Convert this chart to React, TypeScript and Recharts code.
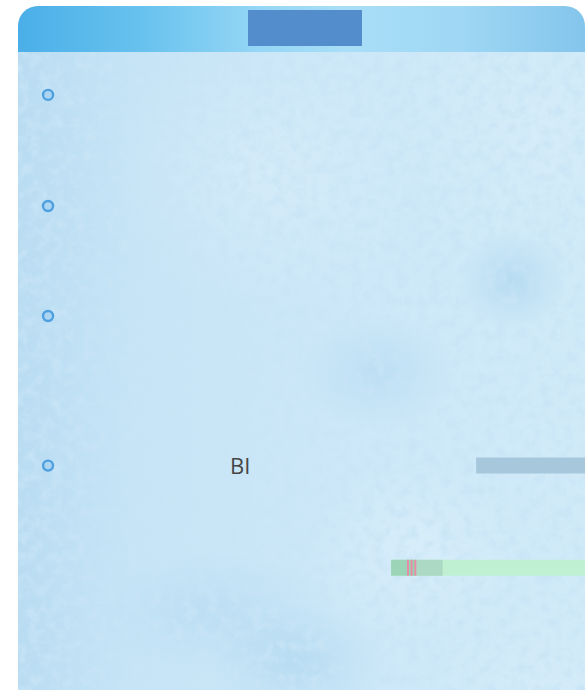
import React from 'react';
import { ComposedChart, Bar, Scatter, XAxis, YAxis, Cell } from 'recharts';

// card geometry
const CARD_W = 567;
const CARD_H = 684;
const HEAD_H = 46;

// hollow markers on the left track (row 0 = top)
const markerRows = [0, 1.01, 2.01, 3.37];
const markerX = 5.3;

// text labels sitting on a row
const labelRows = [3.37];
const labelX = [39.2];
const labelText = ['BI'];

// horizontal spans: row, start, end (percent of track), colour
const spanRows = [3.37, 4.3, 4.3, 4.3, 4.3, 4.3, 4.3, 4.3];
const spanStart = [80.8, 65.8, 65.8, 68.6, 70.3, 68.6, 69.25, 69.9];
const spanEnd = [100, 100, 68.6, 70.3, 74.9, 68.95, 69.6, 70.25];
const spanColors = ['#a7c8dc', '#bff0d1', '#9bd4b7', '#8fdaae', '#acd9c3', '#ea8aa9', '#ea8aa9', '#ea8aa9'];

const markers = markerRows.map((row) => ({ row, x: markerX }));
const labels = labelRows.map((row, i) => ({ row, x: labelX[i], name: labelText[i] }));
const spans = spanRows.map((row, i) => ({ row, span: [spanStart[i], spanEnd[i]] }));

const Ring = (p: any) => (
  <circle cx={p.cx} cy={p.cy} r={5} fill="#acd5f1" stroke="#4e9fe0" strokeWidth={2.4} />
);

const Word = (p: any) => (
  <text
    x={p.cx}
    y={p.cy}
    dy="0.36em"
    textAnchor="middle"
    fontSize={22}
    fontFamily="'Open Sans', sans-serif"
    fill="#454545"
  >
    {p.payload.name}
  </text>
);

const bodyBg = [
  'radial-gradient(ellipse 55px 50px at 495px 228px, rgba(145,198,230,0.4), rgba(145,198,230,0) 100%)',
  'radial-gradient(ellipse 80px 60px at 360px 320px, rgba(150,200,232,0.3), rgba(150,200,232,0) 100%)',
  'radial-gradient(ellipse 90px 60px at 280px 610px, rgba(145,198,230,0.35), rgba(145,198,230,0) 100%)',
  'radial-gradient(ellipse 120px 60px at 200px 560px, rgba(150,200,232,0.25), rgba(150,200,232,0) 100%)',
  'radial-gradient(ellipse 110px 90px at 400px 500px, rgba(225,242,252,0.5), rgba(225,242,252,0) 100%)',
  'radial-gradient(ellipse 160px 140px at 250px 120px, rgba(222,240,251,0.5), rgba(222,240,251,0) 100%)',
  'radial-gradient(ellipse 150px 140px at 520px 80px, rgba(220,240,251,0.45), rgba(220,240,251,0) 100%)',
  'radial-gradient(ellipse 120px 110px at 520px 640px, rgba(218,238,250,0.45), rgba(218,238,250,0) 100%)',
  'linear-gradient(90deg, #b9dcf2 0%, #c6e4f6 20%, #cde8f8 60%, #d0eaf8 100%)',
].join(', ');

export default function App() {
  const bodyH = CARD_H - HEAD_H;
  return (
    <div
      style={{
        position: 'absolute',
        left: 18,
        top: 6,
        width: CARD_W,
        height: CARD_H,
        borderRadius: '20px 20px 0 0',
        overflow: 'hidden',
        fontFamily: "'Open Sans', sans-serif",
      }}
    >
      <div
        style={{
          position: 'relative',
          height: HEAD_H,
          background:
            'linear-gradient(90deg, #4aafe8 0%, #68c2ee 22%, #94d6f5 42%, #a9def7 58%, #9fd7f4 78%, #84c5ec 100%)',
        }}
      >
        <div
          style={{
            position: 'absolute',
            left: 230,
            top: 4,
            width: 114,
            height: 36,
            background: '#548dcc',
          }}
        />
      </div>
      <div style={{ position: 'relative', height: bodyH, background: bodyBg }}>
        <svg
          width={CARD_W}
          height={bodyH}
          style={{ position: 'absolute', left: 0, top: 0, opacity: 0.9 }}
        >
          <filter id="mottle">
            <feTurbulence type="fractalNoise" baseFrequency="0.09" numOctaves={4} seed={7} />
            <feColorMatrix
              type="matrix"
              values="0 0 0 0 0.58  0 0 0 0 0.78  0 0 0 0 0.92  0 0 0 2.4 -1.0"
            />
          </filter>
          <rect width={CARD_W} height={bodyH} filter="url(#mottle)" />
        </svg>
        <div style={{ position: 'absolute', left: 0, top: 0 }}>
          <ComposedChart
            width={CARD_W}
            height={bodyH}
            layout="vertical"
            data={spans}
            margin={{ top: 0, right: 0, bottom: 0, left: 0 }}
          >
            <XAxis type="number" domain={[0, 100]} allowDataOverflow hide />
            <YAxis type="number" dataKey="row" domain={[-0.39, 5.41]} allowDataOverflow hide />
            <Bar dataKey="span" barSize={16} isAnimationActive={false}>
              {spans.map((_, i) => (
                <Cell key={`span-${i}`} fill={spanColors[i]} />
              ))}
            </Bar>
            <Scatter data={markers} dataKey="x" shape={Ring} isAnimationActive={false} />
            <Scatter data={labels} dataKey="x" shape={Word} isAnimationActive={false} />
          </ComposedChart>
        </div>
      </div>
    </div>
  );
}
